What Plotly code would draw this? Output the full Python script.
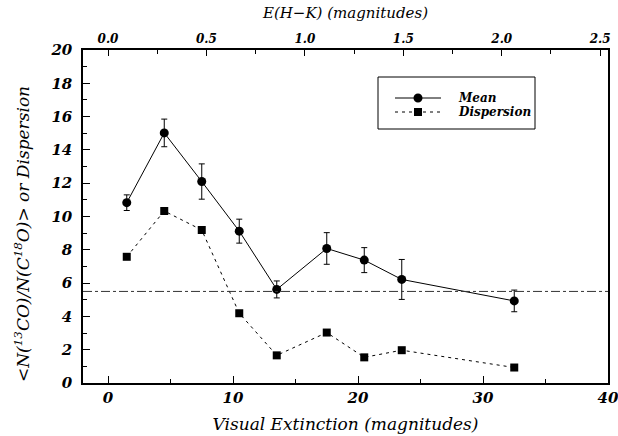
import plotly.graph_objects as go

# Visual extinction bins (magnitudes)
av_bins = [1.5, 4.5, 7.5, 10.5, 13.5, 17.5, 20.5, 23.5, 32.5]
# Mean 13CO/C18O column density ratio per bin, with 1-sigma errors
mean_ratio = [10.83, 15.02, 12.10, 9.12, 5.62, 8.08, 7.38, 6.22, 4.93]
mean_err = [0.47, 0.83, 1.06, 0.72, 0.51, 0.95, 0.75, 1.20, 0.65]
# Dispersion of the ratio per bin
dispersion = [7.58, 10.33, 9.19, 4.19, 1.66, 3.03, 1.54, 1.97, 0.93]
# Terrestrial-like reference ratio
ref_ratio = 5.5
# E(H-K) conversion: Av = AV_PER_EHK * E(H-K)
AV_PER_EHK = 15.75
x_range = [-2, 40]
y_range = [0, 20]
top_ticks = [0.0, 0.5, 1.0, 1.5, 2.0, 2.5]
series_names = ["Mean", "Dispersion"]

SERIF = "DejaVu Serif"
tick_font = dict(family=SERIF, size=15, color="black", style="italic", weight="bold")

W, H = 618, 436
ML, MR, MT, MB = 83, 10, 50, 53


def px_x(p):
    return (p - ML) / (W - ML - MR)


def px_y(p):
    return (H - MB - p) / (H - MT - MB)


fig = go.Figure()

fig.add_trace(go.Scatter(
    x=av_bins, y=mean_ratio, name=series_names[0], mode="lines+markers",
    line=dict(color="black", width=1),
    marker=dict(symbol="circle", size=9, color="black"),
    error_y=dict(type="data", array=mean_err, color="black", thickness=1, width=3),
))
fig.add_trace(go.Scatter(
    x=av_bins, y=dispersion, name=series_names[1], mode="lines+markers",
    line=dict(color="black", width=1, dash="3px,4px"),
    marker=dict(symbol="square", size=8, color="black"),
))
# invisible trace to activate the top E(H-K) axis
fig.add_trace(go.Scatter(x=[0], y=[None], xaxis="x2", showlegend=False, hoverinfo="skip"))

fig.add_shape(type="line", xref="paper", yref="y", x0=0, x1=1, y0=ref_ratio, y1=ref_ratio,
              line=dict(color="#333", width=1, dash="dashdot"))

# boxed key in the upper right
fig.add_shape(type="rect", xref="paper", yref="paper",
              x0=px_x(378), x1=px_x(535), y0=px_y(129), y1=px_y(77),
              line=dict(color="black", width=1), fillcolor="white", layer="below")
key_font = dict(family=SERIF, size=12, color="black", style="italic", weight="bold")
for row, (name, dash, sym) in enumerate(zip(series_names, ["solid", "3px,4px"], ["circle", "rect"])):
    yc = 98 + 14 * row
    fig.add_shape(type="line", xref="paper", yref="paper",
                  x0=px_x(395), x1=px_x(441), y0=px_y(yc), y1=px_y(yc),
                  line=dict(color="black", width=1, dash=dash))
    r = 4.5 if sym == "circle" else 4
    fig.add_shape(type=sym, xref="paper", yref="paper",
                  x0=px_x(418 - r), x1=px_x(418 + r), y0=px_y(yc + r), y1=px_y(yc - r),
                  line=dict(color="black", width=0), fillcolor="black")
    fig.add_annotation(xref="paper", yref="paper", x=px_x(456), y=px_y(yc),
                       xanchor="left", yanchor="middle", showarrow=False,
                       text=name, font=key_font)

# y-axis title
fig.add_annotation(xref="paper", yref="paper", x=px_x(22), y=px_y(234),
                   xanchor="center", yanchor="middle", showarrow=False, textangle=-90,
                   text="&lt;N(<sup>13</sup>CO)/N(C<sup>18</sup>O)&gt; or Dispersion",
                   font=dict(family=SERIF, size=17, color="black", style="italic"))

fig.update_layout(
    width=W, height=H,
    margin=dict(l=ML, r=MR, t=MT, b=MB),
    paper_bgcolor="white", plot_bgcolor="white",
    showlegend=False,
    xaxis=dict(range=x_range, tickvals=[0, 10, 20, 30, 40], ticks="inside", ticklen=7,
               minor=dict(tickvals=[5, 15, 25, 35], ticks="inside", ticklen=4, tickcolor="black"),
               showline=True, linecolor="black", linewidth=1.5, tickcolor="black",
               showgrid=False, zeroline=False, tickfont=tick_font, automargin=False,
               ticklabeloverflow="allow",
               title=dict(text="Visual Extinction (magnitudes)", standoff=12,
                          font=dict(family=SERIF, size=17, color="black", style="italic"))),
    xaxis2=dict(overlaying="x", side="top",
                range=[x_range[0] / AV_PER_EHK, x_range[1] / AV_PER_EHK],
                tickvals=top_ticks, ticktext=[f"{v:.1f}" for v in top_ticks],
                ticks="inside", ticklen=6, automargin=False, ticklabeloverflow="allow",
                minor=dict(tickvals=[0.25, 0.75, 1.25, 1.75, 2.25], ticks="inside", ticklen=4,
                           tickcolor="black"),
                showline=True, linecolor="black", linewidth=1.5, tickcolor="black",
                showgrid=False, zeroline=False,
                tickfont=dict(family=SERIF, size=12, color="black", style="italic", weight="bold"),
                title=dict(text="E(H\u2212K) (magnitudes)", standoff=10,
                           font=dict(family=SERIF, size=15, color="black", style="italic"))),
    yaxis=dict(range=y_range, tickvals=list(range(0, 21, 2)), ticks="inside", ticklen=7,
               minor=dict(tickvals=list(range(1, 20, 2)), ticks="inside", ticklen=4, tickcolor="black"),
               showline=True, linecolor="black", linewidth=1.5, tickcolor="black", mirror=True,
               showgrid=False, zeroline=False, tickfont=tick_font, automargin=False,
               ticklabelstandoff=6),
)

fig.write_html("out.html")
